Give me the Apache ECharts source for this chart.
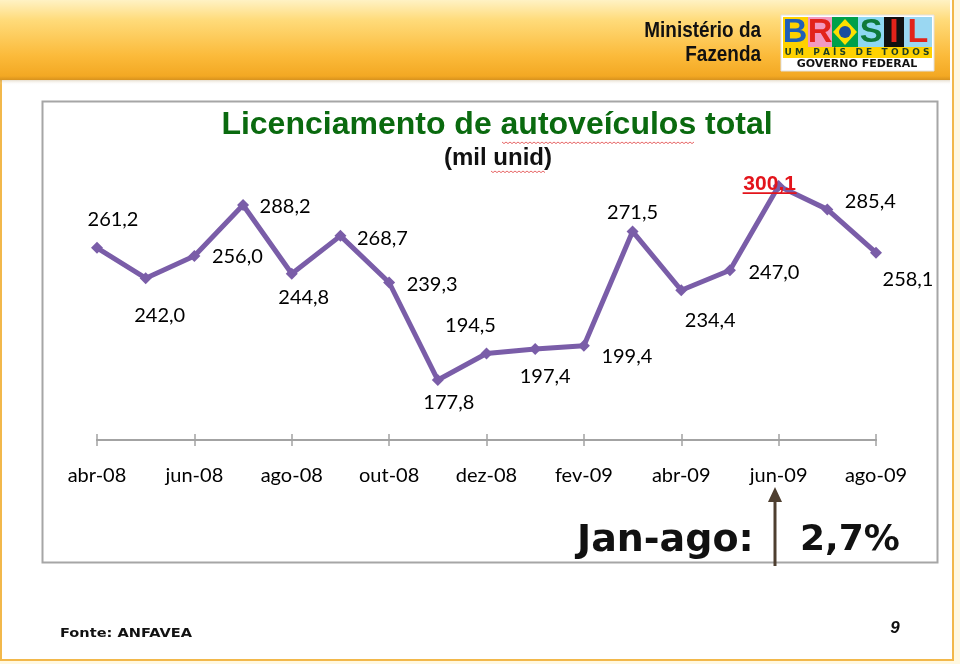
<!DOCTYPE html>
<html>
<head>
<meta charset="utf-8">
<script src="https://cdn.jsdelivr.net/npm/echarts@6.0.0/dist/echarts.min.js"></script>
<style>
html,body{margin:0;padding:0;background:#FFF8E1;}
#c{width:960px;height:664px;}
</style>
</head>
<body>
<div id="c"></div>
<script>
// ---- data ----
const months = ['abr-08','mai-08','jun-08','jul-08','ago-08','set-08','out-08','nov-08','dez-08','jan-09','fev-09','mar-09','abr-09','mai-09','jun-09','jul-09','ago-09'];
const values = [261.2, 242.0, 256.0, 288.2, 244.8, 268.7, 239.3, 177.8, 194.5, 197.4, 199.4, 271.5, 234.4, 247.0, 300.1, 285.4, 258.1];
const highlightIndex = 14;
// label offsets (style only): label centre relative to point
const labelOffsets = [[16,-28],[14,37],[43,1],[42,2],[12,24],[42,3],[43,2],[11,23],[-16,-28],[10,28],[43,11],[0,-19],[29,30],[44,2],[-9,-2],[43,-8],[32,27]];

const purple = '#7A5DA8';
const fmt = v => v.toFixed(1).replace('.', ',');

const chart = echarts.init(document.getElementById('c'), null, {renderer:'canvas'});

const seriesData = values.map((v,i) => {
  const hi = i === highlightIndex;
  return {
    value: v,
    label: {
      show: true,
      position: 'inside',
      align: 'center',
      verticalAlign: 'middle',
      offset: labelOffsets[i],
      formatter: () => fmt(v),
      color: hi ? '#E3141B' : '#000',
      fontFamily: hi ? 'Liberation Sans, Arial, sans-serif' : 'Lato, sans-serif',
      fontWeight: hi ? 'bold' : 'normal',
      fontSize: hi ? 21 : 20
    }
  };
});

// squiggle generator (spell-check underline decoration)
function squiggle(x0, x1, y){
  const pts=[]; let up=true;
  for(let x=x0;x<=x1;x+=2){pts.push([x, y+(up?0:1.6)]); up=!up;}
  return pts;
}

const narrow = "bold 22px 'Liberation Sans',Arial,sans-serif";
const logoX = 781, logoY = 15;
const graphics = [
  // slide background
  {type:'rect', shape:{x:1,y:-2,width:952,height:662}, style:{fill:'#FFFFFF', stroke:'#F2B84B', lineWidth:2}, z:-10, silent:true},
  // header shadow
  {type:'rect', shape:{x:0,y:78,width:950,height:7}, style:{fill:new echarts.graphic.LinearGradient(0,0,0,1,[{offset:0,color:'rgba(150,110,40,0.45)'},{offset:1,color:'rgba(255,255,255,0)'}])}, z:-9, silent:true},
  // header
  {type:'rect', shape:{x:0,y:0,width:950,height:80}, style:{fill:new echarts.graphic.LinearGradient(0,0,0,1,[{offset:0,color:'#FFF2C4'},{offset:0.25,color:'#FFDB7A'},{offset:0.7,color:'#FBBA3A'},{offset:0.95,color:'#F3A823'},{offset:1,color:'#D8921E'}])}, z:-8, silent:true},
  {type:'text', x:761, y:31, scaleX:0.86, style:{text:'Ministério da', x:0, y:0, align:'right', verticalAlign:'middle', font:narrow, fill:'#111'}, z:5},
  {type:'text', x:761, y:55, scaleX:0.86, style:{text:'Fazenda', x:0, y:0, align:'right', verticalAlign:'middle', font:narrow, fill:'#111'}, z:5},
  // logo
  {type:'rect', shape:{x:logoX,y:logoY,width:153,height:56}, style:{fill:'#FFFFFF', stroke:'#E0E0E0', lineWidth:1}, z:5},
  {type:'rect', shape:{x:783,y:17,width:25,height:30}, style:{fill:'#FFD200'}, z:6},
  {type:'rect', shape:{x:808,y:17,width:24,height:30}, style:{fill:'#F29AC0'}, z:6},
  {type:'rect', shape:{x:832,y:17,width:26,height:30}, style:{fill:'#00A04A'}, z:6},
  {type:'polygon', shape:{points:[[845,19],[857,32],[845,45],[833,32]]}, style:{fill:'#FFE000'}, z:7},
  {type:'circle', shape:{cx:845,cy:32,r:6}, style:{fill:'#1B4FA0'}, z:8},
  {type:'rect', shape:{x:858,y:17,width:26,height:30}, style:{fill:'#8ED8F2'}, z:6},
  {type:'rect', shape:{x:884,y:17,width:20,height:30}, style:{fill:'#111111'}, z:6},
  {type:'rect', shape:{x:904,y:17,width:28,height:30}, style:{fill:'#9AD7F2'}, z:6},
  {type:'text', style:{text:'B', x:795, y:33, align:'center', verticalAlign:'middle', font:"bold 34px 'Liberation Sans',sans-serif", fill:'#1F5FB8'}, z:9},
  {type:'text', style:{text:'R', x:820, y:33, align:'center', verticalAlign:'middle', font:"bold 34px 'Liberation Sans',sans-serif", fill:'#E2231A'}, z:9},
  {type:'text', style:{text:'S', x:871, y:33, align:'center', verticalAlign:'middle', font:"bold 34px 'Liberation Sans',sans-serif", fill:'#0E7A3A'}, z:9},
  {type:'text', style:{text:'I', x:894, y:33, align:'center', verticalAlign:'middle', font:"bold 34px 'Liberation Sans',sans-serif", fill:'#E2231A'}, z:9},
  {type:'text', style:{text:'L', x:918, y:33, align:'center', verticalAlign:'middle', font:"bold 34px 'Liberation Sans',sans-serif", fill:'#E2231A'}, z:9},
  {type:'rect', shape:{x:783,y:47,width:149,height:11}, style:{fill:'#FFD200'}, z:6},
  {type:'text', style:{text:'U M   P A Í S   D E   T O D O S', x:857, y:53, align:'center', verticalAlign:'middle', font:"bold 9px 'DejaVu Sans',sans-serif", fill:'#1F3F20'}, z:9},
  {type:'text', style:{text:'GOVERNO FEDERAL', x:857, y:64.5, align:'center', verticalAlign:'middle', font:"bold 11px 'DejaVu Sans',sans-serif", fill:'#111'}, z:9},
  // chart box
  {type:'rect', shape:{x:42.5,y:101.5,width:895,height:461}, style:{fill:'#FFFFFF', stroke:'#A6A6A6', lineWidth:2}, z:-5, silent:true},
  // titles
  {type:'text', style:{text:'Licenciamento de autoveículos total', x:497, y:125, align:'center', verticalAlign:'middle', font:"bold 32px 'Liberation Sans',Arial,sans-serif", fill:'#0A6A0F'}, z:5},
  {type:'text', style:{text:'(mil unid)', x:498, y:158, align:'center', verticalAlign:'middle', font:"bold 24px 'Liberation Sans',Arial,sans-serif", fill:'#111'}, z:5},
  {type:'polyline', shape:{points:squiggle(502,694,142)}, style:{stroke:'#E04040', lineWidth:0.8, fill:null}, z:5},
  {type:'polyline', shape:{points:squiggle(491,546,171)}, style:{stroke:'#E04040', lineWidth:0.8, fill:null}, z:5},
  // Jan-ago
  {type:'text', style:{text:'Jan-ago:', x:577, y:541, align:'left', verticalAlign:'middle', font:"bold 38px 'DejaVu Sans',sans-serif", fill:'#111'}, z:5},
  {type:'text', style:{text:'2,7%', x:800, y:541, align:'left', verticalAlign:'middle', font:"bold 36px 'DejaVu Sans',sans-serif", fill:'#111'}, z:5},
  {type:'line', shape:{x1:775,y1:566,x2:775,y2:498}, style:{stroke:'#4E3F30', lineWidth:3}, z:5},
  {type:'polygon', shape:{points:[[768,502],[775,487],[782,502]]}, style:{fill:'#4E3F30'}, z:5},
  // footer
  {type:'text', x:60, y:634, scaleX:1.12, style:{text:'Fonte: ANFAVEA', x:0, y:0, align:'left', verticalAlign:'middle', font:"bold 13px 'DejaVu Sans',sans-serif", fill:'#111'}, z:5},
  {type:'text', style:{text:'9', x:895, y:628, align:'center', verticalAlign:'middle', font:"italic bold 17px 'Liberation Sans',Arial,sans-serif", fill:'#111'}, z:5}
];

const axisBase = {
  type:'category',
  data: months,
  boundaryGap:false,
  axisLine:{show:true, lineStyle:{color:'#A3A3A3', width:2}},
  splitLine:{show:false}
};

chart.setOption({
  animation:false,
  backgroundColor:'#FFF8E1',
  grid:{left:97, right:84, top:154.5, bottom:224},
  xAxis:[
    Object.assign({}, axisBase, {
      axisTick:{show:true, interval:1, length:6, lineStyle:{color:'#A3A3A3', width:1.5}},
      axisLabel:{show:true, interval:1, margin:26, color:'#000', fontFamily:'Lato, sans-serif', fontSize:20}
    }),
    Object.assign({}, axisBase, {
      position:'bottom',
      axisTick:{show:true, inside:true, interval:1, length:6, lineStyle:{color:'#A3A3A3', width:1.5}},
      axisLabel:{show:false}
    })
  ],
  yAxis:{type:'value', min:140, max:320, show:false},
  graphic: graphics,
  series:[{
    type:'line',
    data: seriesData,
    xAxisIndex:0,
    symbol:'diamond',
    symbolSize:12,
    lineStyle:{color:purple, width:5},
    itemStyle:{color:purple},
    clip:false,
    z:3
  }]
});

// underline for highlighted label (decoration computed from scale)
const p = chart.convertToPixel({xAxisIndex:0, yAxisIndex:0}, [highlightIndex, values[highlightIndex]]);
const off = labelOffsets[highlightIndex];
chart.setOption({graphic: graphics.concat([{type:'line', shape:{x1:p[0]+off[0]-27, y1:p[1]+off[1]+9, x2:p[0]+off[0]+27, y2:p[1]+off[1]+9}, style:{stroke:'#E3141B', lineWidth:1.8}, z:10}])});
</script>
</body>
</html>
